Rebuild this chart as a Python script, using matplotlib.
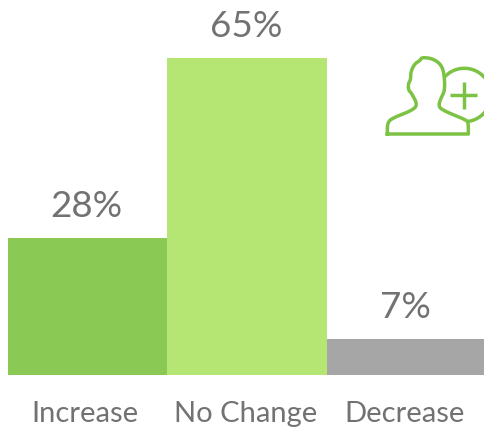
import numpy as np
import matplotlib
matplotlib.use('Agg')
import matplotlib.pyplot as plt

categories = ['Increase', 'No Change', 'Decrease']
values = [28, 65, 7.4]
value_labels = ['28%', '65%', '7%']
colors = ['#8bc955', '#b5e573', '#a6a6a6']
ICON = '#7cc243'
TEXT = '#727272'
W, H = 485, 429
plt.rcParams['font.family'] = ['Lato', 'DejaVu Sans']

fig = plt.figure(figsize=(W / 100, H / 100), dpi=100)
ax = fig.add_axes([8 / W, 1 - 375 / H, 478 / W, 375 / H])
x = np.arange(3)
ax.bar(x, values, width=1.0, color=colors, linewidth=0)
ax.set_xlim(-0.5, 2.5)
ax.set_ylim(0, 375 / 4.877)
ax.axis('off')
for xi, v, lab in zip(x, values, value_labels):
    ax.annotate(lab, (xi, v), xytext=(-1, 15), textcoords='offset pixels', ha='center', va='bottom',
                fontsize=26.5, color=TEXT)
label_x = [85, 246, 405]
for px, lab in zip(label_x, categories):
    fig.text(px / W, 1 - 414 / H, lab, ha='center', va='center', fontsize=21, color=TEXT)

# decorative icon in pixel space
ov = fig.add_axes([0, 0, 1, 1])
ov.set_xlim(0, W); ov.set_ylim(H, 0); ov.axis('off'); ov.patch.set_alpha(0)
z = lambda a, b: (370 + np.asarray(a) / 3, 40 + np.asarray(b) / 3)

def smooth(pts, n=3):
    p = np.asarray(pts, float)
    for _ in range(n):
        q = [p[0]]
        for a, b in zip(p[:-1], p[1:]):
            q += [0.75 * a + 0.25 * b, 0.25 * a + 0.75 * b]
        q.append(p[-1])
        p = np.array(q)
    return p

outline = [(52, 282), (52, 250), (65, 235), (125, 212), (143, 195), (125, 160), (115, 150), (115, 130),
           (122, 120), (122, 95), (135, 70), (150, 62), (155, 52), (185, 55), (210, 70), (222, 95),
           (225, 150), (215, 170), (205, 195), (215, 210), (290, 240), (295, 250), (295, 282)]
s = smooth(outline)
px, py = z(s[:, 0], s[:, 1])
ov.plot(np.r_[px, px[0]], np.r_[py, py[0]], color=ICON, lw=2.5, solid_joinstyle='round')
t = np.radians(np.linspace(-136, 78, 100))
cx, cy = z(283, 165)
ov.plot(cx + 26.7 * np.cos(t), cy + 26.7 * np.sin(t), color=ICON, lw=2.5)
for a, b in [((240, 322), (165, 165)), ((283, 283), (125, 208))]:
    lx, ly = z(a, b)
    ov.plot(lx, ly, color=ICON, lw=2.5, solid_capstyle='butt')
fig.savefig('out.png', dpi=100)
